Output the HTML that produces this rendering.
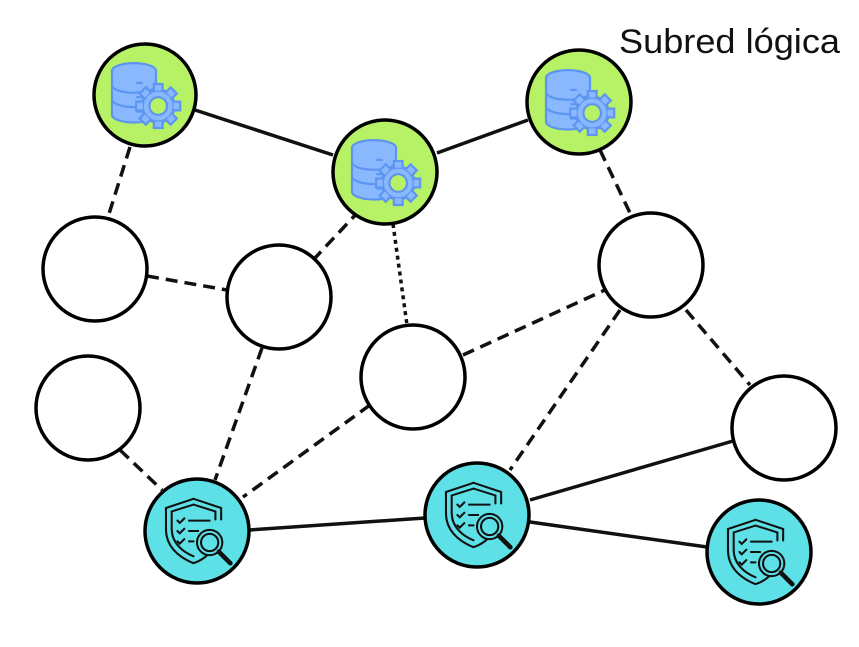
<!DOCTYPE html>
<html><head><meta charset="utf-8"><style>
html,body{margin:0;padding:0;background:#fff;}
svg{display:block}
</style></head><body>
<svg width="859" height="647" viewBox="0 0 859 647" xmlns="http://www.w3.org/2000/svg">
<defs>
<g id="db">
  <g fill="#8ab8ff" stroke="#5d95f0" stroke-width="2">
    <ellipse cx="-10" cy="-22" rx="20" ry="7"/>
    <path d="M-30,-22 v40 a20,7 0 0 0 40,0 v-40"/>
    <path d="M-30,-9 a20,7 0 0 0 40,0 M-30,4 a20,7 0 0 0 40,0" fill="none"/>
    <path d="M-8,-11 h6 M-8,2 h6 M-8,15 h6" />
  </g>
  <g transform="translate(12,10)">
    <circle r="15" fill="#8ab8ff" stroke="#5d95f0" stroke-width="2"/>
    <g fill="#8ab8ff" stroke="#5d95f0" stroke-width="2">
      <rect x="-4" y="-20" width="8" height="7"/><rect x="-4" y="13" width="8" height="7"/>
      <rect x="-20" y="-4" width="7" height="8"/><rect x="13" y="-4" width="7" height="8"/>
      <rect x="-4" y="-20" width="8" height="7" transform="rotate(45)"/><rect x="-4" y="13" width="8" height="7" transform="rotate(45)"/>
      <rect x="-20" y="-4" width="7" height="8" transform="rotate(45)"/><rect x="13" y="-4" width="7" height="8" transform="rotate(45)"/>
    </g>
    <circle r="13" fill="#8ab8ff"/>
    <circle r="8" fill="#b7f266" stroke="#5d95f0" stroke-width="2"/>
  </g>
</g>
<g id="sh" fill="none" stroke="#111" stroke-width="1.8" stroke-linecap="round">
  <path d="M-3,-28 l-24,8 v18 c0,16 12,25 24,30 c6,-2 10,-5 13,-8"/>
  <path d="M-3,-28 l24,8 v10"/>
  <path d="M-3,-23 l-19,6 v15 c0,12 9,20 19,24"/>
  <path d="M-3,-23 l19,6 v7"/>
  <path d="M-17,-9 l2,2 4,-4 M-17,0 l2,2 4,-4 M-17,9 l2,2 4,-4"/>
  <path d="M-7,-9 h18 M-7,0 h8 M-7,9 h4"/>
  <circle cx="11" cy="10" r="11" fill="#5de0e6"/>
  <circle cx="11" cy="10" r="7.5"/>
  <path d="M19,18 l10,10" stroke-width="4"/>
</g>
</defs>
<g stroke="#111" stroke-width="3.5" fill="none">
  <line x1="195" y1="110" x2="333" y2="155"/>
  <line x1="437" y1="153" x2="528" y2="120"/>
  <line x1="249" y1="530" x2="425" y2="518"/>
  <line x1="530" y1="500" x2="733" y2="441"/>
  <line x1="530" y1="522" x2="707" y2="547"/>
  <g stroke-dasharray="12,7">
    <line x1="130" y1="147" x2="108" y2="217"/>
    <line x1="360" y1="210" x2="315" y2="258"/>
    <line x1="600" y1="150" x2="630" y2="213"/>
    <line x1="147" y1="276" x2="227" y2="290"/>
    <line x1="262" y1="348" x2="215" y2="480"/>
    <line x1="370" y1="405" x2="243" y2="497"/>
    <line x1="463" y1="355" x2="605" y2="290"/>
    <line x1="620" y1="310" x2="510" y2="470"/>
    <line x1="686" y1="310" x2="750" y2="385"/>
    <line x1="120" y1="450" x2="162" y2="490"/>
  </g>
  <line x1="393" y1="224" x2="407" y2="325" stroke-dasharray="4,4"/>
</g>
<g stroke="#000" stroke-width="3.5">
  <circle cx="145" cy="95" r="51" fill="#b7f266"/>
  <circle cx="385" cy="172" r="52" fill="#b7f266"/>
  <circle cx="579" cy="102" r="52" fill="#b7f266"/>
  <circle cx="95" cy="269" r="52" fill="#fff"/>
  <circle cx="279" cy="297" r="52" fill="#fff"/>
  <circle cx="413" cy="377" r="52" fill="#fff"/>
  <circle cx="651" cy="265" r="52" fill="#fff"/>
  <circle cx="88" cy="408" r="52" fill="#fff"/>
  <circle cx="784" cy="428" r="52" fill="#fff"/>
  <circle cx="197" cy="531" r="52" fill="#5de0e6"/>
  <circle cx="477" cy="515" r="52" fill="#5de0e6"/>
  <circle cx="759" cy="552" r="52" fill="#5de0e6"/>
</g>
<use href="#db" transform="translate(145,95) scale(1.1)"/>
<use href="#db" transform="translate(385,172) scale(1.1)"/>
<use href="#db" transform="translate(579,102) scale(1.1)"/>
<use href="#sh" transform="translate(197,531) scale(1.15)"/>
<use href="#sh" transform="translate(477,515) scale(1.15)"/>
<use href="#sh" transform="translate(759,552) scale(1.15)"/>
<text x="619" y="53" textLength="221" lengthAdjust="spacingAndGlyphs" font-family="Liberation Sans, sans-serif" font-size="34" font-weight="300" fill="#111">Subred lógica</text>
</svg>
</body></html>
